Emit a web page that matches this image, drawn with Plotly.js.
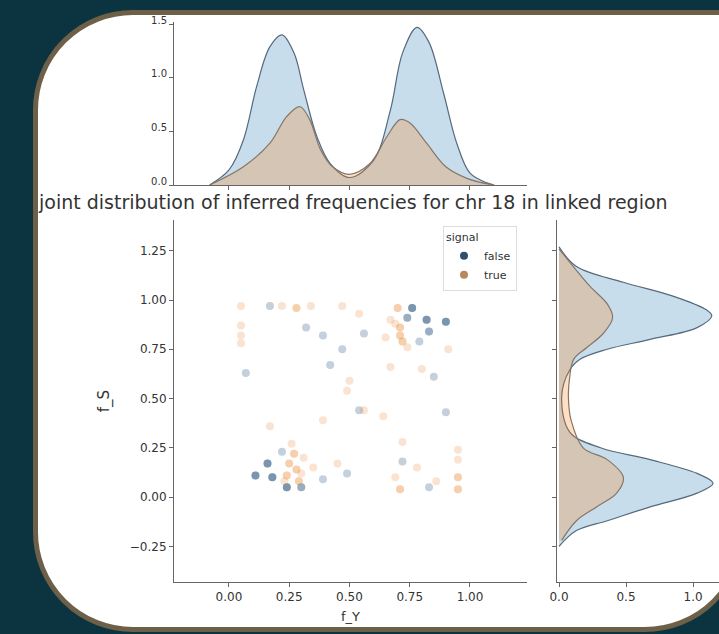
<!DOCTYPE html>
<html><head><meta charset="utf-8">
<script src="https://cdn.plot.ly/plotly-3.0.1.min.js"></script>
<style>
html,body{margin:0;padding:0;width:719px;height:634px;overflow:hidden;background:#0c3440;}
#frame{position:absolute;left:33px;top:10px;width:712px;height:622px;box-sizing:border-box;border:5px solid #6e6048;border-radius:100px 26px 100px 100px;background:#fff;}
#plot{position:absolute;left:0;top:0;width:760px;height:634px;}
</style></head><body>
<div id="frame"></div>
<div id="plot"></div>
<script>
// scatter data: f_Y (x), f_S (y)
const falseFY = [0.76,0.76,0.76,0.74,0.74,0.82,0.82,0.82,0.90,0.90,0.90,0.83,0.83,
  0.16,0.16,0.16,0.11,0.11,0.11,0.18,0.18,0.18,0.24,0.24,0.24,0.30,0.30,0.49,
  0.47,0.56,0.72,0.39,0.17,0.32,0.39,0.22,0.83,0.90,0.54,0.07,0.42,0.79,0.85];
const falseFS = [0.96,0.96,0.96,0.91,0.91,0.90,0.90,0.90,0.89,0.89,0.89,0.84,0.84,
  0.17,0.17,0.17,0.11,0.11,0.11,0.10,0.10,0.10,0.05,0.05,0.05,0.05,0.05,0.12,
  0.75,0.83,0.18,0.09,0.97,0.86,0.82,0.23,0.05,0.43,0.44,0.63,0.67,0.79,0.61];
const trueFY = [0.05,0.05,0.05,0.05,0.22,0.28,0.28,0.34,0.47,0.54,0.50,0.49,0.56,0.64,0.72,
  0.70,0.70,0.71,0.71,0.71,0.71,0.72,0.72,0.69,0.67,0.74,0.65,0.67,0.80,0.91,
  0.26,0.27,0.27,0.25,0.25,0.28,0.28,0.24,0.24,0.29,0.29,0.23,0.30,0.31,0.35,0.45,0.17,0.39,
  0.71,0.71,0.69,0.95,0.95,0.95,0.95,0.95,0.95,0.86,0.78];
const trueFS = [0.97,0.87,0.82,0.78,0.97,0.96,0.96,0.97,0.97,0.93,0.59,0.54,0.44,0.41,0.28,
  0.96,0.96,0.86,0.86,0.82,0.82,0.79,0.79,0.88,0.90,0.76,0.81,0.66,0.65,0.75,
  0.27,0.22,0.22,0.17,0.17,0.14,0.14,0.11,0.11,0.08,0.08,0.08,0.12,0.20,0.15,0.17,0.36,0.39,
  0.04,0.04,0.10,0.04,0.04,0.10,0.10,0.19,0.24,0.08,0.15];

// top marginal density of f_Y
const topGridFalse = [-0.08,0.00,0.06,0.115,0.17,0.22,0.27,0.31,0.365,0.42,0.50,0.60,0.67,0.72,0.78,0.83,0.89,0.945,1.00,1.07,1.10];
const topDensFalse = [0.00,0.14,0.42,0.92,1.29,1.40,1.23,0.89,0.45,0.20,0.07,0.23,0.70,1.23,1.47,1.33,0.86,0.39,0.11,0.02,0.00];
const topGridTrue = [-0.08,0.06,0.17,0.24,0.295,0.335,0.38,0.43,0.50,0.585,0.655,0.71,0.75,0.82,0.90,0.99,1.10];
const topDensTrue = [0.00,0.17,0.39,0.64,0.73,0.61,0.33,0.17,0.10,0.20,0.45,0.61,0.58,0.39,0.17,0.06,0.00];

// right marginal density of f_S
const rightGridFalse = [1.27,1.17,1.09,1.02,0.95,0.92,0.86,0.80,0.75,0.70,0.645,0.51,0.33,0.25,0.19,0.12,0.07,0.02,-0.05,-0.12,-0.17,-0.25];
const rightDensFalse = [0.00,0.13,0.48,0.85,1.10,1.14,1.03,0.68,0.36,0.16,0.08,0.02,0.08,0.31,0.68,1.03,1.15,1.03,0.68,0.36,0.13,0.00];
const rightGridTrue = [1.26,1.07,0.98,0.91,0.83,0.76,0.70,0.61,0.51,0.39,0.25,0.19,0.10,0.02,-0.05,-0.12,-0.22];
const rightDensTrue = [0.00,0.23,0.36,0.40,0.33,0.21,0.11,0.08,0.07,0.09,0.18,0.36,0.48,0.43,0.28,0.13,0.02];

const hueLabels = ['false','true'];
const legendTitle = 'signal';
const xTicks = [0,0.25,0.5,0.75,1.0];
const xTickText = ['0.00','0.25','0.50','0.75','1.00'];
const yTicks = [-0.25,0,0.25,0.5,0.75,1.0,1.25];
const yTickText = ['\u22120.25','0.00','0.25','0.50','0.75','1.00','1.25'];
const topTicks = [0,0.5,1.0,1.5];
const topTickText = ['0.0','0.5','1.0','1.5'];
const rightTicks = [0,0.5,1.0];
const rightTickText = ['0.0','0.5','1.0'];

const W=760,H=634;
const px=(a,b)=>[a/W,b/W];
const py=(top,bot)=>[(H-bot)/H,(H-top)/H];

const traces=[
 {x:falseFY,y:falseFS,type:'scatter',mode:'markers',xaxis:'x',yaxis:'y',showlegend:false,
  marker:{color:'#2b5580',size:8,opacity:0.28}},
 {x:trueFY,y:trueFS,type:'scatter',mode:'markers',xaxis:'x',yaxis:'y',showlegend:false,
  marker:{color:'#e8862e',size:8,opacity:0.22}},
 {x:[null],y:[null],type:'scatter',mode:'markers',name:hueLabels[0],xaxis:'x',yaxis:'y',
  marker:{color:'#2f4f6f',size:8}},
 {x:[null],y:[null],type:'scatter',mode:'markers',name:hueLabels[1],xaxis:'x',yaxis:'y',
  marker:{color:'#b9875c',size:8}},
 {x:topGridFalse,y:topDensFalse,type:'scatter',mode:'lines',xaxis:'x2',yaxis:'y2',showlegend:false,
  line:{color:'#56697d',width:1.2,shape:'spline'},fill:'tozeroy',fillcolor:'rgba(31,119,180,0.25)'},
 {x:topGridTrue,y:topDensTrue,type:'scatter',mode:'lines',xaxis:'x2',yaxis:'y2',showlegend:false,
  line:{color:'#85766a',width:1.2,shape:'spline'},fill:'tozeroy',fillcolor:'rgba(255,127,14,0.25)'},
 {x:rightDensFalse,y:rightGridFalse,type:'scatter',mode:'lines',xaxis:'x3',yaxis:'y3',showlegend:false,
  line:{color:'#56697d',width:1.2,shape:'spline'},fill:'tozerox',fillcolor:'rgba(31,119,180,0.25)'},
 {x:rightDensTrue,y:rightGridTrue,type:'scatter',mode:'lines',xaxis:'x3',yaxis:'y3',showlegend:false,
  line:{color:'#85766a',width:1.2,shape:'spline'},fill:'tozerox',fillcolor:'rgba(255,127,14,0.25)'}
];

const tickfont={family:'DejaVu Sans',size:12,color:'#333'};
const axBase={showgrid:false,zeroline:false,showline:true,linecolor:'#666',linewidth:1,
  ticks:'outside',ticklen:4,tickcolor:'#666',tickfont:tickfont};

const layout={
 width:W,height:H,margin:{l:0,r:0,t:0,b:0},autosize:false,
 paper_bgcolor:'rgba(0,0,0,0)',plot_bgcolor:'rgba(0,0,0,0)',
 font:{family:'DejaVu Sans',color:'#333'},
 xaxis:Object.assign({},axBase,{domain:px(174,527),range:[-0.228,1.2365],anchor:'y',
   tickvals:xTicks,ticktext:xTickText,
   title:{text:'f_Y',font:{family:'DejaVu Sans',size:13,color:'#333'},standoff:8}}),
 yaxis:Object.assign({},axBase,{domain:py(220,582),range:[-0.431,1.406],anchor:'x',
   tickvals:yTicks,ticktext:yTickText,
   title:{text:'f_S',font:{family:'DejaVu Sans',size:15,color:'#333'},standoff:16}}),
 xaxis2:Object.assign({},axBase,{domain:px(174,527),range:[-0.228,1.2365],anchor:'y2',
   tickvals:xTicks,showticklabels:false}),
 yaxis2:Object.assign({},axBase,{domain:py(22,185),range:[0,1.52],anchor:'x2',
   tickvals:topTicks,ticktext:topTickText,ticklabelshift:-4,
   tickfont:{family:'DejaVu Sans',size:10,color:'#333'}}),
 xaxis3:Object.assign({},axBase,{domain:px(557,735),range:[-0.015,1.313],anchor:'y3',
   tickvals:rightTicks,ticktext:rightTickText}),
 yaxis3:Object.assign({},axBase,{domain:py(220,582),range:[-0.431,1.406],anchor:'x3',
   tickvals:yTicks,showticklabels:false}),
 legend:{x:443/W,y:(H-226)/H,xanchor:'left',yanchor:'top',bgcolor:'rgba(255,255,255,0.8)',
   bordercolor:'#ddd',borderwidth:1,font:{family:'DejaVu Sans',size:11,color:'#333'},
   title:{text:legendTitle,font:{family:'DejaVu Sans',size:11,color:'#333'}},
   itemwidth:30,tracegroupgap:0},
 annotations:[{text:'joint distribution of inferred frequencies for chr 18 in linked region',
   xref:'paper',yref:'paper',x:353/W,y:(H-202)/H,xanchor:'center',yanchor:'middle',showarrow:false,
   borderpad:0,font:{family:'DejaVu Sans',size:19,color:'#333'}}]
};
Plotly.newPlot('plot',traces,layout,{displayModeBar:false,staticPlot:true});
</script>
</body></html>
